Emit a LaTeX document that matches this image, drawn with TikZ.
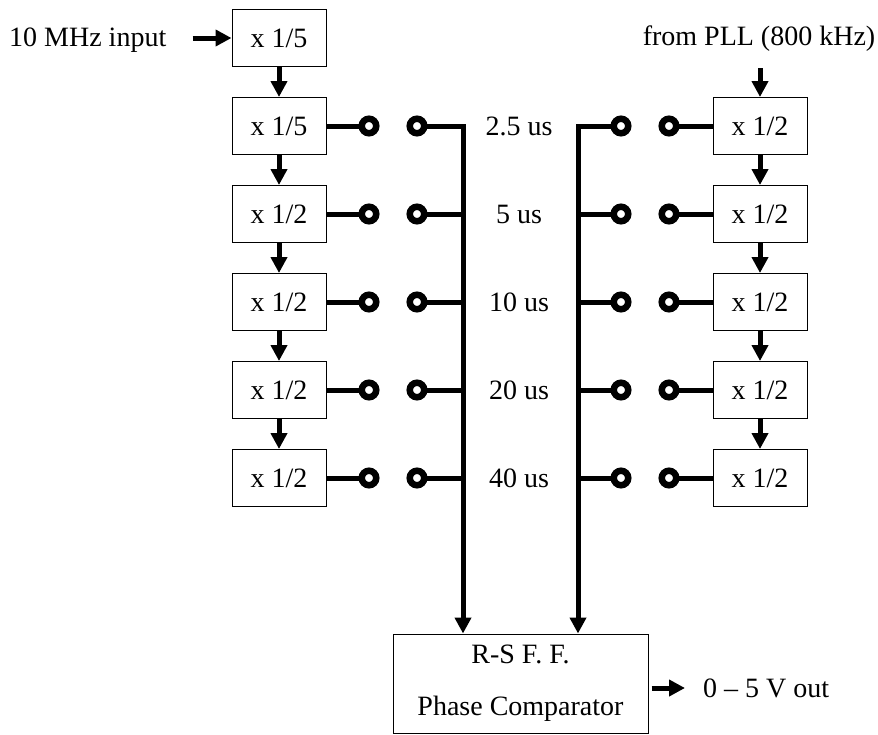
\documentclass[tikz,border=0pt]{standalone}
\usepackage{fontspec}
\setmainfont{Liberation Serif}
\usetikzlibrary{arrows.meta}

\tikzset{
  boite/.style={draw, line width=1pt, minimum width=94pt, minimum height=57pt, inner sep=0pt},
  borne/.style={draw, circle, line width=6.5pt, minimum size=14.5pt, inner sep=0pt, outer sep=0pt},
  fil/.style={line width=5pt},
  fleche/.style={line width=5pt, -{Triangle[length=16pt,width=16pt]}},
  texte/.style={inner sep=0pt}
}

\begin{document}
\begin{tikzpicture}[x=1pt, y=-1pt, font=\fontsize{28}{32}\selectfont]
    % Cadre de l'image
    \useasboundingbox (0,0) rectangle (878,734);

    % Diviseurs de gauche (entree 10 MHz)
    \node[boite] (L1) at (279,38) {x 1/5};
    \node[boite] (L2) at (279,126) {x 1/5};
    \node[boite] (L3) at (279,214) {x 1/2};
    \node[boite] (L4) at (279,302) {x 1/2};
    \node[boite] (L5) at (279,390) {x 1/2};
    \node[boite] (L6) at (279,478) {x 1/2};
    \foreach \i/\j in {1/2,2/3,3/4,4/5,5/6}
        \draw[fleche] (L\i) -- (L\j);

    % Diviseurs de droite (depuis la PLL)
    \foreach \i/\y in {2/126,3/214,4/302,5/390,6/478}
        \node[boite] (R\i) at (760,\y) {x 1/2};
    \foreach \i/\j in {2/3,3/4,4/5,5/6}
        \draw[fleche] (R\i) -- (R\j);

    % Textes d'entree
    \node[texte, anchor=base west] (entree) at (9,46) {10 MHz input};
    \draw[fleche, shorten <=26pt] (entree.east |- L1) -- (L1);
    \node[texte, anchor=base] (pll) at (759,45) {from PLL (800 kHz)};
    \coordinate (pllbas) at (760,68);
    \draw[fleche] (pllbas) -- (R2);

    % Comparateur de phase
    \node[draw, line width=1pt, minimum width=255pt, minimum height=99pt, align=center]
        (SR) at (520.5,683.5) {R-S F. F.\\[20pt]Phase Comparator};
    \node[texte, anchor=west] (sortie) at (703,688) {0 -- 5 V out};
    \draw[fleche, shorten <=3pt, shorten >=18pt] ([yshift=-4.5pt]SR.east) -- (sortie.west);

    % Bornes des commutateurs et durees
    \foreach \i/\y/\t in {2/126/2.5 us,3/214/5 us,4/302/10 us,5/390/20 us,6/478/40 us} {
        \node[borne] (la\i) at (369,\y) {};
        \node[borne] (lb\i) at (417,\y) {};
        \node[borne] (rb\i) at (621,\y) {};
        \node[borne] (ra\i) at (669,\y) {};
        \node[texte] (duree\i) at (519,\y) {\t};
        \draw[fil] (L\i) -- (la\i);
        \draw[fil] (ra\i) -- (R\i);
    }

    % Bus vers le comparateur
    \coordinate (busG) at (463,126);
    \coordinate (busD) at (578,126);
    \draw[fleche] (lb2) -- (busG) -- (busG |- SR.north);
    \draw[fleche] (rb2) -- (busD) -- (busD |- SR.north);
    \foreach \i in {3,4,5,6} {
        \draw[fil] (lb\i) -- (lb\i -| busG);
        \draw[fil] (rb\i) -- (rb\i -| busD);
    }

\end{tikzpicture}
\end{document}
